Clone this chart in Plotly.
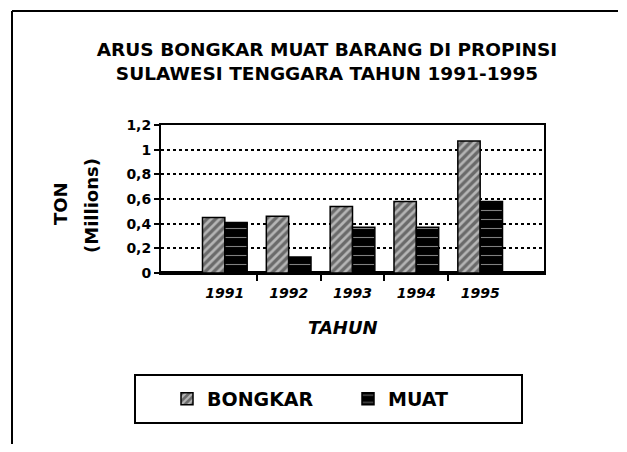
import plotly.graph_objects as go

years = ["1991", "1992", "1993", "1994", "1995"]
bongkar = [0.45, 0.46, 0.54, 0.58, 1.07]
muat = [0.41, 0.13, 0.37, 0.37, 0.58]
y_tickvals = [0, 0.2, 0.4, 0.6, 0.8, 1.0, 1.2]
y_ticktext = ["0", "0,2", "0,4", "0,6", "0,8", "1", "1,2"]

OFF = 8  # page body margin
W, H = 627 - 2 * OFF, 452 - 2 * OFF
L, R, T, B = 161, 544, 125, 273  # plot area box in page pixels


def px_x(p):
    return (p - L) / (R - L)


def px_y(p):
    return (B - p) / (B - T)


FONT = "DejaVu Sans"
xs = list(range(len(years)))

fig = go.Figure()
fig.add_trace(go.Bar(
    x=xs, y=bongkar, name="BONGKAR",
    marker=dict(color="#6a6a6a", line=dict(color="black", width=1.5),
                pattern=dict(shape="/", fgcolor="white", size=6, solidity=0.45,
                             fillmode="overlay")),
))
fig.add_trace(go.Bar(
    x=xs, y=muat, name="MUAT",
    marker=dict(color="black", line=dict(color="black", width=1.5),
                pattern=dict(shape="-", fgcolor="white", size=9, solidity=0.12,
                             fillmode="overlay")),
))

fig.update_layout(
    width=W, height=H,
    margin=dict(l=L - OFF, r=W + OFF - R, t=T - OFF, b=H + OFF - B, pad=0),
    paper_bgcolor="white", plot_bgcolor="white",
    barmode="group", bargap=0.3, bargroupgap=0,
    font=dict(family=FONT, color="black"),
    title=dict(text="ARUS BONGKAR MUAT BARANG DI PROPINSI<br>SULAWESI TENGGARA TAHUN 1991-1995",
               x=px_x(327), xref="paper", xanchor="center",
               y=1 - (56 - OFF) / H, yref="container", yanchor="top",
               font=dict(family=FONT, size=18.5, weight="bold", color="black")),
    showlegend=True,
    legend=dict(orientation="h", x=px_x(167), xanchor="left", y=px_y(399), yanchor="middle",
                font=dict(family=FONT, size=19, weight="bold"), bgcolor="rgba(0,0,0,0)",
                borderwidth=0, entrywidth=136, entrywidthmode="pixels"),
    xaxis=dict(range=[-1, 5], tickvals=xs, ticktext=years, ticks="",
               ticklabelstandoff=6,
               tickfont=dict(family=FONT, size=14, weight="bold", style="italic"),
               showline=True, linecolor="black", linewidth=2, mirror=True,
               showgrid=False, zeroline=False,
               minor=dict(tickvals=[0.5, 1.5, 2.5, 3.5], ticks="outside", ticklen=6,
                          tickwidth=2, tickcolor="black", showgrid=False)),
    yaxis=dict(range=[0, 1.2], tickvals=y_tickvals, ticktext=y_ticktext,
               ticks="outside", ticklen=5, tickwidth=2, tickcolor="black",
               tickfont=dict(family=FONT, size=14, weight="bold"),
               showline=True, linecolor="black", linewidth=2, mirror=True,
               showgrid=True, gridcolor="black", griddash="dot", gridwidth=2,
               zeroline=True, zerolinecolor="black", zerolinewidth=4),
    annotations=[
        dict(text="TON", x=px_x(60), y=px_y(204), xref="paper", yref="paper",
             textangle=-90, showarrow=False, xanchor="center", yanchor="middle",
             font=dict(family=FONT, size=18, weight="bold")),
        dict(text="(Millions)", x=px_x(91), y=px_y(206), xref="paper", yref="paper",
             textangle=-90, showarrow=False, xanchor="center", yanchor="middle",
             font=dict(family=FONT, size=18, weight="bold")),
        dict(text="TAHUN", x=px_x(343), y=px_y(327), xref="paper", yref="paper",
             showarrow=False, xanchor="center", yanchor="middle",
             font=dict(family=FONT, size=18, weight="bold", style="italic")),
    ],
    shapes=[
        # legend box
        dict(type="rect", xref="paper", yref="paper",
             x0=px_x(135), x1=px_x(522), y0=px_y(423), y1=px_y(375),
             line=dict(color="black", width=2), fillcolor="rgba(0,0,0,0)", layer="below"),
        # outer frame (left and top edges)
        dict(type="line", xref="paper", yref="paper",
             x0=px_x(12), x1=px_x(12), y0=px_y(11), y1=px_y(452),
             line=dict(color="black", width=2)),
        dict(type="line", xref="paper", yref="paper",
             x0=px_x(12), x1=px_x(618), y0=px_y(11), y1=px_y(11),
             line=dict(color="black", width=2)),
    ],
)

fig.write_html("out.html")
